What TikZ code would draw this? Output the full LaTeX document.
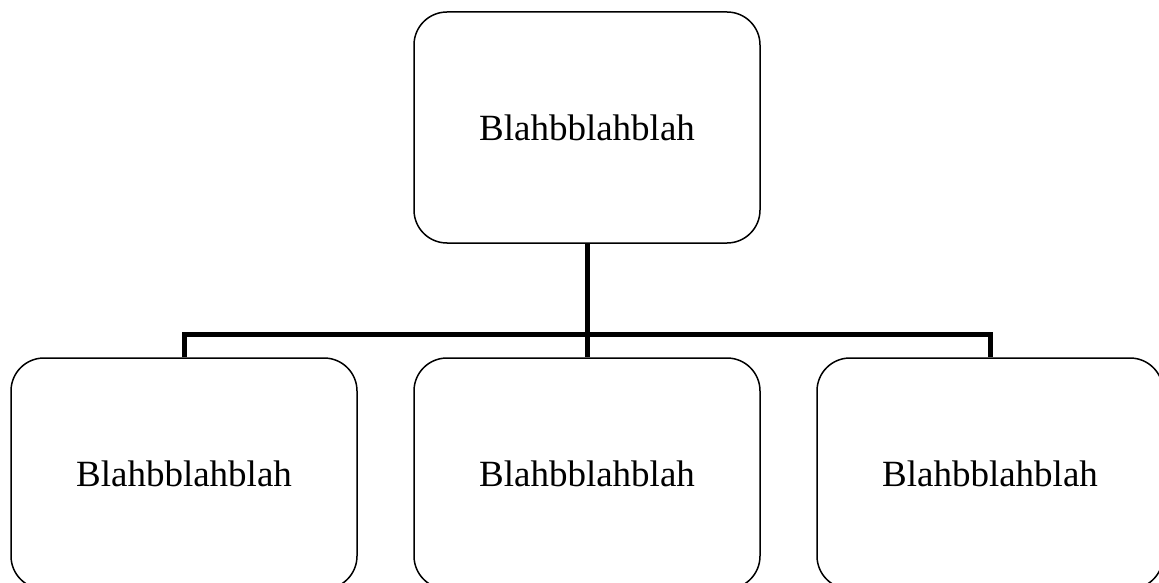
\documentclass[tikz,border=0pt]{standalone}
\usepackage{fontspec}
\setmainfont{Liberation Serif}
\begin{document}
\begin{tikzpicture}[x=1pt,y=-1pt,
  box/.style={draw=black, line width=1.5pt, rounded corners=33pt, fill=white,
    minimum width=346pt, minimum height=231pt, inner sep=0pt,
    font=\fontsize{37}{44}\selectfont},
  conn/.style={draw=black, line width=5pt, line join=miter}]
\useasboundingbox (0,0) rectangle (1159,583);
\clip (0,0) rectangle (1159,583);
\fill[white] (0,0) rectangle (1159,583);
\node[box] (top) at (587,127.5) {Blahbblahblah};
\node[box] (l) at (184,473.5) {Blahbblahblah};
\node[box] (m) at (587,473.5) {Blahbblahblah};
\node[box] (r) at (990,473.5) {Blahbblahblah};
\coordinate (j) at (587,334);
\draw[conn] (top.south) -- (j);
\draw[conn] (l.north) -- (l.north |- j) -- (r.north |- j) -- (r.north);
\draw[conn] (j) -- (m.north);
\end{tikzpicture}
\end{document}
